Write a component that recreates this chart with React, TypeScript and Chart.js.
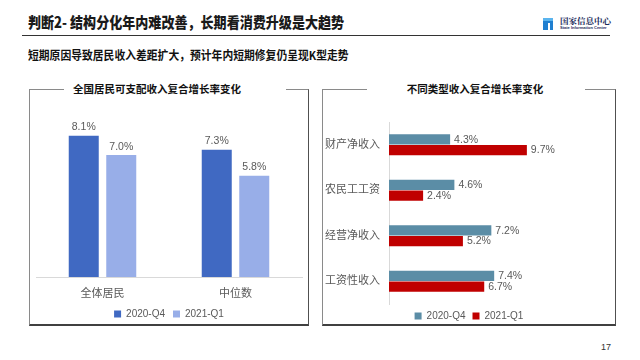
import React, { useEffect, useRef } from "react";
import { Chart, registerables } from "chart.js";

Chart.register(...registerables);

const leftCategories = ["全体居民", "中位数"];
const leftQ4 = [8.1, 7.3];
const leftQ1 = [7.0, 5.8];

const rightCategories = ["财产净收入", "农民工工资", "经营净收入", "工资性收入"];
const rightQ4 = [4.3, 4.6, 7.2, 7.4];
const rightQ1 = [9.7, 2.4, 5.2, 6.7];

const seriesNames = ["2020-Q4", "2021-Q1"];

const FONT = '"Liberation Sans", "Noto Sans CJK SC", sans-serif';
const CJK = '"Noto Sans CJK SC", "Liberation Sans", sans-serif';

const valueLabels = {
  id: "valueLabels",
  afterDatasetsDraw(chart: any) {
    const ctx = chart.ctx;
    const horizontal = chart.options.indexAxis === "y";
    ctx.save();
    ctx.font = `10.5px ${FONT}`;
    ctx.fillStyle = "#595959";
    chart.data.datasets.forEach((ds: any, di: number) => {
      const meta = chart.getDatasetMeta(di);
      meta.data.forEach((el: any, i: number) => {
        const txt = ds.data[i].toFixed(1) + "%";
        if (horizontal) {
          ctx.textAlign = "left";
          ctx.textBaseline = "middle";
          ctx.fillText(txt, el.x + 4, el.y + 0.5);
        } else {
          ctx.textAlign = "center";
          ctx.textBaseline = "bottom";
          ctx.fillText(txt, el.x, el.y - 3);
        }
      });
    });
    ctx.restore();
  },
};

function LeftChart() {
  const ref = useRef<HTMLCanvasElement>(null);
  useEffect(() => {
    const chart = new Chart(ref.current!, {
      type: "bar",
      data: {
        labels: leftCategories,
        datasets: [
          { label: seriesNames[0], data: leftQ4, backgroundColor: "#4069C2", categoryPercentage: 0.564, barPercentage: 0.8 },
          { label: seriesNames[1], data: leftQ1, backgroundColor: "#98AEE8", categoryPercentage: 0.564, barPercentage: 0.8 },
        ],
      },
      options: {
        animation: false,
        responsive: false,
        layout: { padding: { left: 6, right: 6, top: 31, bottom: 0 } },
        scales: {
          x: {
            grid: { display: false, drawTicks: false },
            border: { display: true, color: "#d9d9d9", width: 1 },
            ticks: { color: "#595959", font: { size: 11, family: FONT }, padding: 10 },
            afterFit: (s: any) => { s.height = 24; },
          },
          y: { display: false, min: 0, max: 9 },
        },
        plugins: {
          legend: {
            position: "bottom",
            labels: { boxWidth: 7, boxHeight: 7, padding: 8, color: "#595959", font: { size: 10, family: FONT } },
          },
          tooltip: { enabled: false },
        },
      },
      plugins: [valueLabels],
    });
    return () => chart.destroy();
  }, []);
  return <canvas ref={ref} width={278} height={240} style={{ position: "absolute", left: 30, top: 89, width: 278, height: 240 }} />;
}

function RightChart() {
  const ref = useRef<HTMLCanvasElement>(null);
  useEffect(() => {
    const chart = new Chart(ref.current!, {
      type: "bar",
      data: {
        labels: rightCategories,
        datasets: [
          { label: seriesNames[0], data: rightQ4, backgroundColor: "#5B8DA6", categoryPercentage: 0.47, barPercentage: 0.95 },
          { label: seriesNames[1], data: rightQ1, backgroundColor: "#C00000", categoryPercentage: 0.47, barPercentage: 0.95 },
        ],
      },
      options: {
        indexAxis: "y",
        animation: false,
        responsive: false,
        layout: { padding: { left: 0, right: 0, top: 33, bottom: 0 } },
        scales: {
          y: {
            grid: { display: false, drawTicks: false },
            border: { display: true, color: "#d9d9d9", width: 1 },
            ticks: { color: "#595959", font: { size: 11, family: FONT }, padding: 9 },
            afterFit: (s: any) => { s.width = 66; },
          },
          x: { display: false, min: 0, max: 15.9 },
        },
        plugins: {
          legend: {
            position: "bottom",
            labels: { boxWidth: 7, boxHeight: 7, padding: 7, color: "#595959", font: { size: 10, family: FONT } },
          },
          tooltip: { enabled: false },
        },
      },
      plugins: [valueLabels],
    });
    return () => chart.destroy();
  }, []);
  return <canvas ref={ref} width={292} height={242} style={{ position: "absolute", left: 323, top: 89, width: 292, height: 242 }} />;
}

function Panel({ left, width, gapLeft, gapWidth, title, titleCenter }: any) {
  return (
    <>
      <div
        style={{
          position: "absolute",
          left,
          top: 89,
          width,
          height: 237,
          boxSizing: "border-box",
          borderTop: "1px solid #8a8a8a",
          borderLeft: "1px solid #8a8a8a",
          borderRight: "1px solid #505050",
          borderBottom: "2px solid #404040",
        }}
      />
      <div style={{ position: "absolute", left: gapLeft, top: 86, width: gapWidth, height: 6, background: "#fff" }} />
      <div
        style={{
          position: "absolute",
          left: titleCenter - 120,
          width: 240,
          top: 82,
          height: 14,
          lineHeight: "14px",
          textAlign: "center",
          fontFamily: CJK,
          fontWeight: 700,
          fontSize: 10.5,
          color: "#111",
          whiteSpace: "nowrap",
        }}
      >
        {title}
      </div>
    </>
  );
}

export default function App() {
  return (
    <div style={{ position: "fixed", left: 0, top: 0, width: 640, height: 360, background: "#fff", overflow: "hidden" }}>
      <div
        style={{
          position: "absolute",
          left: 28,
          top: 12,
          height: 20,
          lineHeight: "20px",
          fontFamily: CJK,
          fontWeight: 900,
          fontSize: 15,
          color: "#1a1a1a",
          whiteSpace: "nowrap",
          transform: "scaleX(0.87)",
          transformOrigin: "left center",
        }}
      >
        判断2- 结构分化年内难改善，长期看消费升级是大趋势
      </div>
      <div style={{ position: "absolute", left: 22, top: 35, width: 588, height: 1, background: "#333" }} />
      <div style={{ position: "absolute", left: 543, top: 18, width: 10, height: 12, background: "#1f7fd0" }}>
        <div style={{ position: "absolute", left: 0, top: 0, width: 10, height: 3, background: "#5ab4ee" }} />
        <div style={{ position: "absolute", left: 5, top: 5, width: 2, height: 7, background: "#fff" }} />
      </div>
      <div
        style={{
          position: "absolute",
          left: 560,
          top: 15,
          lineHeight: "10px",
          fontFamily: '"Noto Serif CJK SC", "Noto Sans CJK SC", serif',
          fontWeight: 700,
          fontSize: 8.5,
          color: "#1a2a5a",
          whiteSpace: "nowrap",
        }}
      >
        国家信息中心
      </div>
      <div
        style={{
          position: "absolute",
          left: 560,
          top: 25,
          lineHeight: "5px",
          fontFamily: FONT,
          fontWeight: 700,
          fontSize: 4,
          color: "#1a2a5a",
          whiteSpace: "nowrap",
        }}
      >
        State Information Center
      </div>
      <div
        style={{
          position: "absolute",
          left: 28,
          top: 47,
          height: 16,
          lineHeight: "16px",
          fontFamily: CJK,
          fontWeight: 700,
          fontSize: 12,
          color: "#111",
          whiteSpace: "nowrap",
          transform: "scaleX(0.9)",
          transformOrigin: "left center",
        }}
      >
        短期原因导致居民收入差距扩大，预计年内短期修复仍呈现K型走势
      </div>
      <Panel left={29} width={280} gapLeft={64} gapWidth={222} title="全国居民可支配收入复合增长率变化" titleCenter={157} />
      <Panel left={322} width={294} gapLeft={367} gapWidth={218} title="不同类型收入复合增长率变化" titleCenter={475} />
      <LeftChart />
      <RightChart />
      <div style={{ position: "absolute", left: 601, top: 341, fontFamily: FONT, fontSize: 9, lineHeight: "12px", color: "#333" }}>17</div>
    </div>
  );
}
